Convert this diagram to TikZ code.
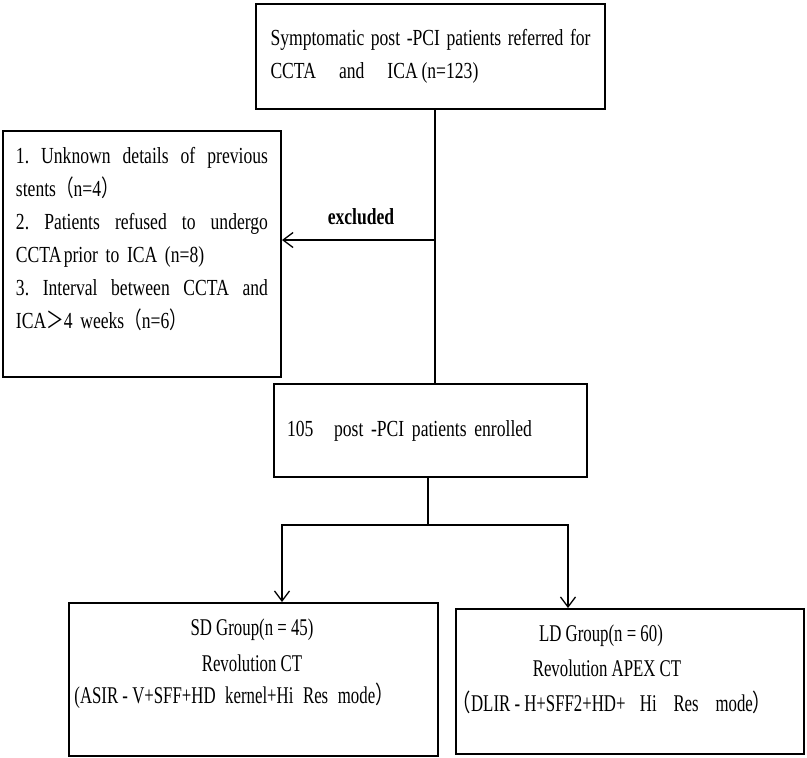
\documentclass[tikz,border=0pt]{standalone}
\usepackage{fontspec}
\setmainfont[FakeStretch=0.765]{Liberation Serif}
\newfontfamily\cjk[FakeStretch=0.765]{Noto Sans CJK SC}
\newfontfamily\cond[FakeStretch=0.70]{Liberation Serif}
\usetikzlibrary{arrows.meta}
\newcommand\jline[2]{\leavevmode\hbox to #1{#2}}
\begin{document}
\begin{tikzpicture}[x=1pt,y=-1pt,
  box/.style={draw, line width=2pt, inner sep=0pt},
  txt/.style={font=\fontsize{23}{33}\selectfont, inner sep=0pt},
  btxt/.style={font=\cond\fontsize{24}{27}\selectfont, inner sep=0pt},
  link/.style={line width=1.3pt},
  arr/.style={link, -{Straight Barb[length=10pt,width=15pt,line width=1.3pt]}}]
\useasboundingbox (0,0) rectangle (807,758);
\node[box, txt, anchor=north west, minimum width=349pt, minimum height=105pt, text width=320pt, inner xsep=14.5pt, align=left] (top) at (255,3)
  {\jline{320pt}{Symptomatic\hfill post\hfill -PCI\hfill patients\hfill referred\hfill for}\\CCTA\hspace{1em}and\hspace{1em}ICA\,(n=123)};
\node[box, txt, anchor=north west, minimum width=278pt, minimum height=246pt, text width=252pt, inner xsep=13pt, align=left] (excl) at (2,130)
  {\jline{252pt}{1.\hfill Unknown\hfill details\hfill of\hfill previous}\\
   stents{\cjk （}n=4{\cjk ）}\\
   \jline{252pt}{2.\hfill Patients\hfill refused\hfill to\hfill undergo}\\
   CCTA\hspace{0.1em}prior to ICA (n=8)\\
   \jline{252pt}{3.\hfill Interval\hfill between\hfill CCTA\hfill and}\\
   ICA{\cjk ＞}4 weeks{\cjk （}n=6{\cjk ）}\\
   \mbox{}};
\node[box, txt, anchor=north west, minimum width=313pt, minimum height=93pt, text width=287pt, inner xsep=13pt, align=left] (enr) at (273,383)
  {105\hspace{0.9em}post -PCI patients enrolled};
\node[box, anchor=north west, minimum width=369pt, minimum height=153pt] (sd) at (68,602) {};
\node[btxt] (sd1) at (252,630) {SD Group(n = 45)};
\node[btxt] (sd2) at (252,663) {Revolution CT};
\node[btxt] (sd3) at (234,696) {(ASIR - V+SFF+HD\hspace{0.4em}kernel+Hi\hspace{0.4em}Res\hspace{0.4em}mode{\cjk ）}};
\node[box, anchor=north west, minimum width=348pt, minimum height=145pt] (ld) at (455,608) {};
\node[btxt] (ld1) at (601,636) {LD Group(n = 60)};
\node[btxt] (ld2) at (607,668) {Revolution APEX CT};
\node[btxt] (ld3) at (612,702) {{\cjk （}DLIR - H+SFF2+HD+\hspace{0.6em}Hi\hspace{0.7em}Res\hspace{0.7em}mode{\cjk ）}};
\node[font=\bfseries\fontsize{23}{24}\selectfont, inner sep=0pt] (exl) at (361,217) {excluded};
\coordinate (j1) at (435,240);
\draw[link] (top.south -| j1) -- (enr.north -| j1);
\draw[arr] (j1) -- (excl.east |- j1);
\coordinate (j2) at (428,525);
\coordinate (sdin) at (282,525);
\coordinate (ldin) at (568,525);
\draw[link] (enr.south -| j2) -- (j2);
\draw[arr] (j2) -- (sdin) -- (sdin |- sd.north);
\draw[arr] (j2) -- (ldin) -- (ldin |- ld.north);
\end{tikzpicture}
\end{document}
